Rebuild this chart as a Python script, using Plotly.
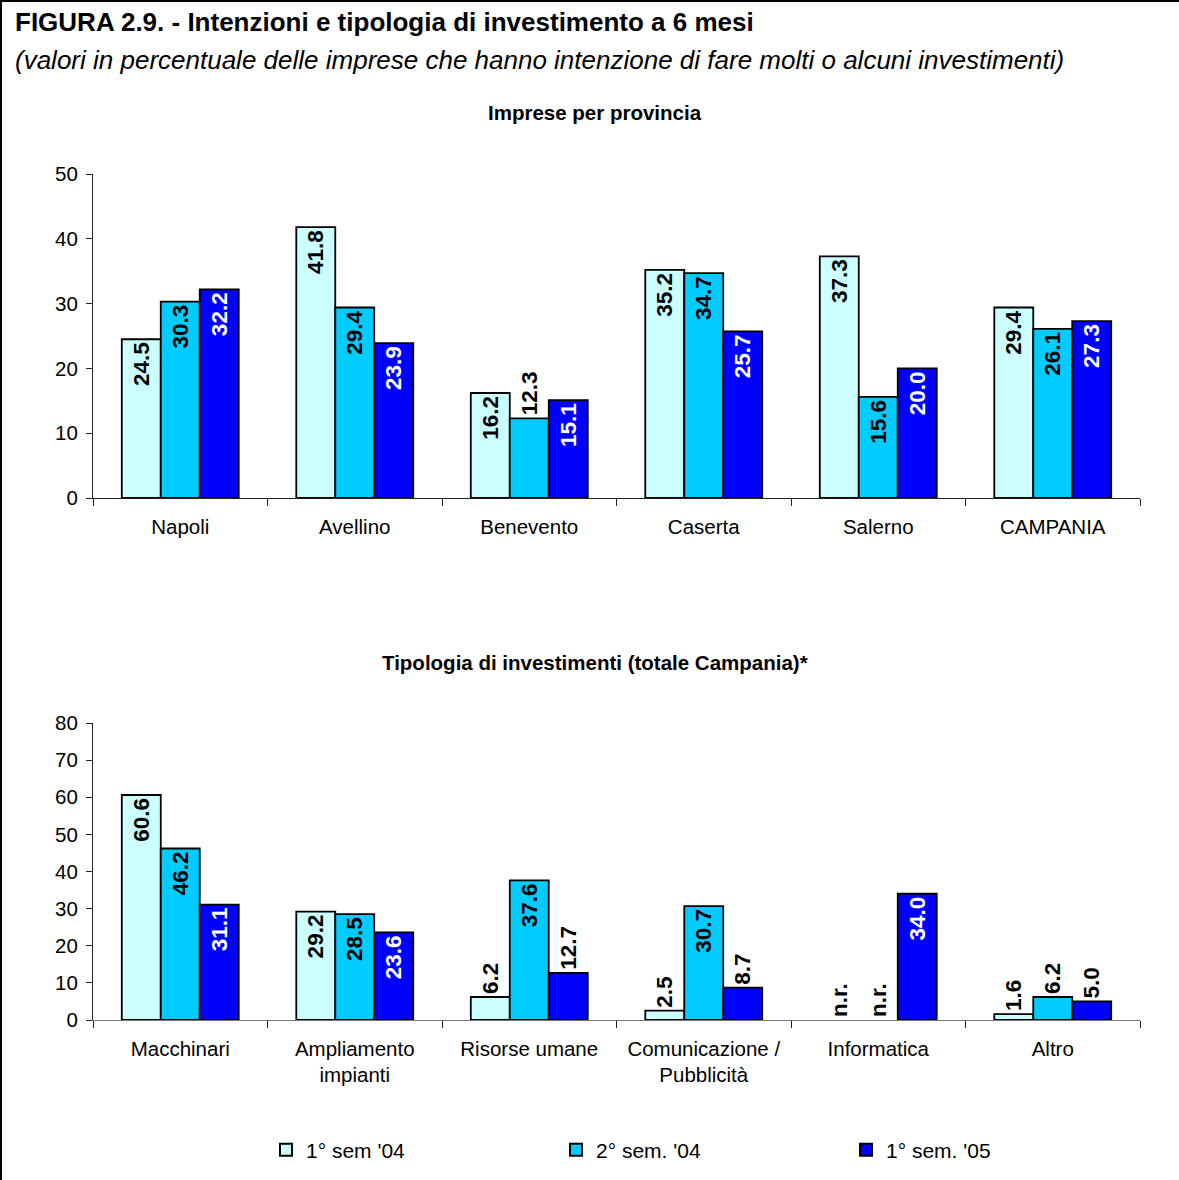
import plotly.graph_objects as go

# Top panel: share of firms planning investments, by province
province = ["Napoli", "Avellino", "Benevento", "Caserta", "Salerno", "CAMPANIA"]
prov_s1_04 = [24.5, 41.8, 16.2, 35.2, 37.3, 29.4]
prov_s2_04 = [30.3, 29.4, 12.3, 34.7, 15.6, 26.1]
prov_s1_05 = [32.2, 23.9, 15.1, 25.7, 20.0, 27.3]

# Bottom panel: type of investment (Campania total); None = not surveyed (n.r.)
tipologia = ["Macchinari", "Ampliamento<br>impianti", "Risorse umane",
             "Comunicazione /<br>Pubblicità", "Informatica", "Altro"]
tip_s1_04 = [60.6, 29.2, 6.2, 2.5, None, 1.6]
tip_s2_04 = [46.2, 28.5, 37.6, 30.7, None, 6.2]
tip_s1_05 = [31.1, 23.6, 12.7, 8.7, 34.0, 5.0]

series_names = ["1° sem '04", "2° sem. '04", "1° sem. '05"]
colors = ["#CCFFFF", "#00CCFF", "#0000FF"]
inside_txt = ["black", "black", "white"]

W, H = 1179, 1180
FONT = "Liberation Sans, Arial, sans-serif"


def px_x(p):
    return p / W


def px_y(p):
    return 1 - p / H


fig = go.Figure()


def add_group(cats, values, name, color, txtcol, xa, ya, showlegend):
    ys = [v if v is not None else 0 for v in values]
    texts = [f"{v:.1f}" if v is not None else "n.r." for v in values]
    # labels go inside when the bar is tall enough, otherwise on top
    pos = ["inside" if (v is not None and v >= 15) else "outside" for v in values]
    lw = [1.8 if v is not None else 0 for v in values]
    fig.add_trace(go.Bar(
        x=cats, y=ys, name=name, text=texts, textposition=pos,
        textangle=-90, insidetextanchor="end", constraintext="none",
        cliponaxis=False,
        insidetextfont=dict(family=FONT, size=22.5, color=txtcol, weight="bold"),
        outsidetextfont=dict(family=FONT, size=22.5, color="black", weight="bold"),
        marker=dict(color=color, line=dict(color="black", width=lw)),
        xaxis=xa, yaxis=ya, showlegend=showlegend, hoverinfo="skip",
    ))


for vals, nm, c, tc in zip([prov_s1_04, prov_s2_04, prov_s1_05], series_names, colors, inside_txt):
    add_group(province, vals, nm, c, tc, "x", "y", True)
for vals, nm, c, tc in zip([tip_s1_04, tip_s2_04, tip_s1_05], series_names, colors, inside_txt):
    add_group(tipologia, vals, nm, c, tc, "x2", "y2", False)

xdom = [px_x(93), px_x(1140)]
axis_common = dict(showgrid=False, zeroline=False, showline=True, linewidth=1.2,
                   ticks="outside", tickfont=dict(family=FONT, size=20.5, color="black"))

fig.update_layout(
    width=W, height=H, margin=dict(l=0, r=0, t=0, b=0, autoexpand=False),
    paper_bgcolor="white", plot_bgcolor="white",
    barmode="group", bargap=0.33, bargroupgap=0,
    font=dict(family=FONT, color="black"),
    xaxis=dict(domain=xdom, anchor="y", type="category", tickson="boundaries",
               ticklen=7, ticklabelstandoff=10, linecolor="#222", tickcolor="#222", **axis_common),
    yaxis=dict(domain=[px_y(498), px_y(174)], anchor="x", range=[0, 50], dtick=10,
               ticklen=6, ticklabelstandoff=4, linecolor="#222", tickcolor="#222", **axis_common),
    xaxis2=dict(domain=xdom, anchor="y2", type="category", tickson="boundaries",
                ticklen=7, ticklabelstandoff=10, linecolor="#777", tickcolor="#222", **axis_common),
    yaxis2=dict(domain=[px_y(1020), px_y(723)], anchor="x2", range=[0, 80], dtick=10,
                ticklen=6, ticklabelstandoff=4, linecolor="#222", tickcolor="#222", **axis_common),
    legend=dict(orientation="h", x=px_x(266), y=px_y(1150), xanchor="left", yanchor="middle",
                entrywidth=245, entrywidthmode="pixels",
                font=dict(family=FONT, size=21, color="black"), itemsizing="constant"),
    shapes=[
        dict(type="line", xref="paper", yref="paper", x0=0, x1=1, y0=px_y(1), y1=px_y(1),
             line=dict(color="black", width=2)),
        dict(type="line", xref="paper", yref="paper", x0=px_x(1), x1=px_x(1), y0=0, y1=1,
             line=dict(color="black", width=2)),
    ],
    annotations=[
        dict(text="<b>FIGURA 2.9. - Intenzioni e tipologia di investimento a 6 mesi</b>",
             xref="paper", yref="paper", x=px_x(13), y=px_y(22), xanchor="left", yanchor="middle",
             showarrow=False, font=dict(family=FONT, size=26)),
        dict(text="<i>(valori in percentuale delle imprese che hanno intenzione di fare molti o alcuni investimenti)</i>",
             xref="paper", yref="paper", x=px_x(13), y=px_y(60), xanchor="left", yanchor="middle",
             showarrow=False, font=dict(family=FONT, size=26)),
        dict(text="<b>Imprese per provincia</b>",
             xref="paper", yref="paper", x=px_x(595), y=px_y(113), xanchor="center", yanchor="middle",
             showarrow=False, font=dict(family=FONT, size=20.5)),
        dict(text="<b>Tipologia di investimenti (totale Campania)*</b>",
             xref="paper", yref="paper", x=px_x(595), y=px_y(662), xanchor="center", yanchor="middle",
             showarrow=False, font=dict(family=FONT, size=20.5)),
    ],
)

fig.write_html("out.html")
